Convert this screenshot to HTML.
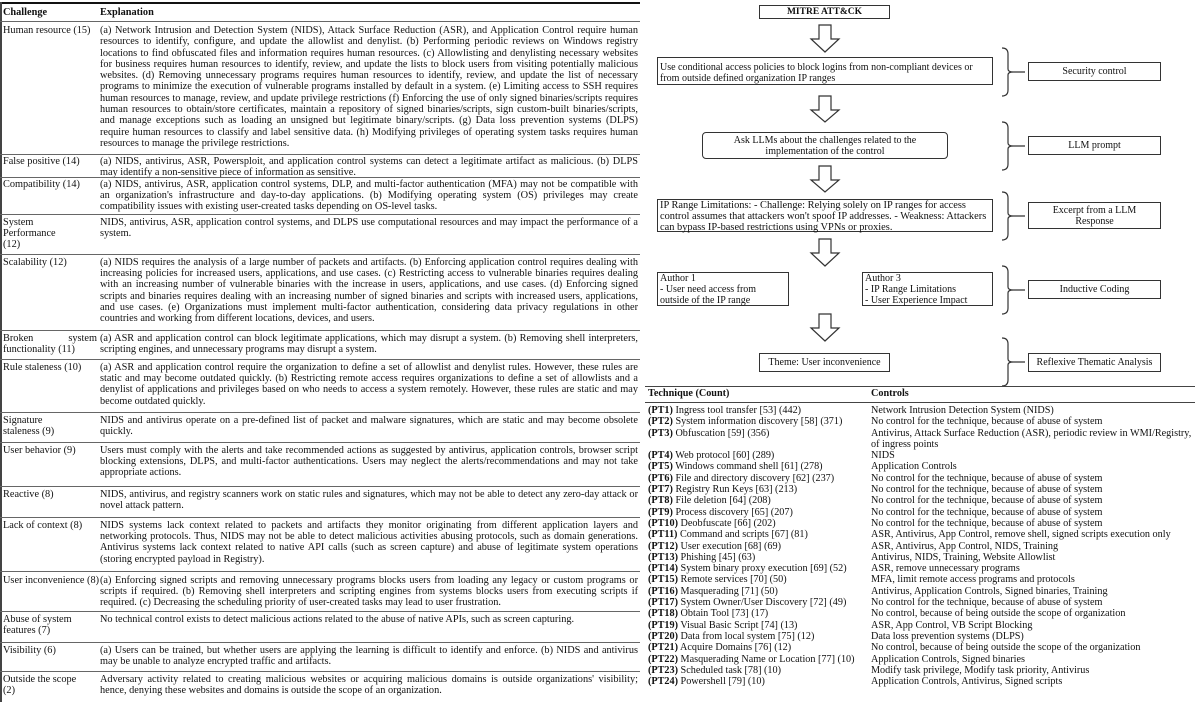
<!DOCTYPE html>
<html><head><meta charset="utf-8"><style>
*{margin:0;padding:0;box-sizing:border-box}
body{width:1195px;height:704px;background:#fff;position:relative;overflow:hidden;font-family:"Liberation Serif",serif;color:#111}
.a{position:absolute}
.c1{position:absolute;left:3px;width:94px;font-size:10.3px;line-height:11.2px}
.c2{position:absolute;left:100px;width:538px;font-size:10.3px;line-height:11.2px;text-align:justify}
.sep{position:absolute;left:0;width:640px;height:1px;background:#666}
.box{position:absolute;border:1.3px solid #333;font-size:10px;line-height:11px;background:#fff}
.ctr{display:flex;align-items:center;justify-content:center;text-align:center}
.tr{position:absolute;font-size:10.2px;line-height:11.3px;white-space:nowrap}
</style></head><body>
<!-- left table -->
<div class="a" style="left:0;top:2px;width:640px;height:2px;background:#111"></div>
<div class="a" style="left:0;top:2px;width:2px;height:700px;background:#444"></div>
<div class="c1" style="top:7px;font-weight:bold">Challenge</div>
<div class="c2" style="top:7px;font-weight:bold">Explanation</div>
<div class="sep" style="top:21px"></div>
<div class="c1" style="top:25px;width:120px;line-height:11.3px">Human resource (15)</div>
<div class="c2" style="top:25px;line-height:11.3px">(a) Network Intrusion and Detection System (NIDS), Attack Surface Reduction (ASR), and Application Control require human resources to identify, configure, and update the allowlist and denylist. (b) Performing periodic reviews on Windows registry locations to find obfuscated files and information requires human resources. (c) Allowlisting and denylisting necessary websites for business requires human resources to identify, review, and update the lists to block users from visiting potentially malicious websites. (d) Removing unnecessary programs requires human resources to identify, review, and update the list of necessary programs to minimize the execution of vulnerable programs installed by default in a system. (e) Limiting access to SSH requires human resources to manage, review, and update privilege restrictions (f) Enforcing the use of only signed binaries/scripts requires human resources to obtain/store certificates, maintain a repository of signed binaries/scripts, sign custom-built binaries/scripts, and manage exceptions such as loading an unsigned but legitimate binary/scripts. (g) Data loss prevention systems (DLPS) require human resources to classify and label sensitive data. (h) Modifying privileges of operating system tasks requires human resources to manage the privilege restrictions.</div>
<div class="sep" style="top:154px"></div>
<div class="c1" style="top:156px">False positive (14)</div>
<div class="c2" style="top:156px">(a) NIDS, antivirus, ASR, Powersploit, and application control systems can detect a legitimate artifact as malicious. (b) DLPS may identify a non-sensitive piece of information as sensitive.</div>
<div class="sep" style="top:177px"></div>
<div class="c1" style="top:179px">Compatibility (14)</div>
<div class="c2" style="top:179px">(a) NIDS, antivirus, ASR, application control systems, DLP, and multi-factor authentication (MFA) may not be compatible with an organization's infrastructure and day-to-day applications. (b) Modifying operating system (OS) privileges may create compatibility issues with existing user-created tasks depending on OS-level tasks.</div>
<div class="sep" style="top:214px"></div>
<div class="c1" style="top:217px">System<br>Performance<br>(12)</div>
<div class="c2" style="top:217px">NIDS, antivirus, ASR, application control systems, and DLPS use computational resources and may impact the performance of a system.</div>
<div class="sep" style="top:254px"></div>
<div class="c1" style="top:257px">Scalability (12)</div>
<div class="c2" style="top:257px">(a) NIDS requires the analysis of a large number of packets and artifacts. (b) Enforcing application control requires dealing with increasing policies for increased users, applications, and use cases. (c) Restricting access to vulnerable binaries requires dealing with an increasing number of vulnerable binaries with the increase in users, applications, and use cases. (d) Enforcing signed scripts and binaries requires dealing with an increasing number of signed binaries and scripts with increased users, applications, and use cases. (e) Organizations must implement multi-factor authentication, considering data privacy regulations in other countries and working from different locations, devices, and users.</div>
<div class="sep" style="top:330px"></div>
<div class="c1" style="top:333px"><div style="display:flex;justify-content:space-between"><span>Broken</span><span>system</span></div>functionality (11)</div>
<div class="c2" style="top:333px">(a) ASR and application control can block legitimate applications, which may disrupt a system. (b) Removing shell interpreters, scripting engines, and unnecessary programs may disrupt a system.</div>
<div class="sep" style="top:359px"></div>
<div class="c1" style="top:362px">Rule staleness (10)</div>
<div class="c2" style="top:362px">(a) ASR and application control require the organization to define a set of allowlist and denylist rules. However, these rules are static and may become outdated quickly. (b) Restricting remote access requires organizations to define a set of allowlists and a denylist of applications and privileges based on who needs to access a system remotely. However, these rules are static and may become outdated quickly.</div>
<div class="sep" style="top:412px"></div>
<div class="c1" style="top:415px">Signature<br>staleness (9)</div>
<div class="c2" style="top:415px">NIDS and antivirus operate on a pre-defined list of packet and malware signatures, which are static and may become obsolete quickly.</div>
<div class="sep" style="top:442px"></div>
<div class="c1" style="top:445px">User behavior (9)</div>
<div class="c2" style="top:445px">Users must comply with the alerts and take recommended actions as suggested by antivirus, application controls, browser script blocking extensions, DLPS, and multi-factor authentications. Users may neglect the alerts/recommendations and may not take appropriate actions.</div>
<div class="sep" style="top:486px"></div>
<div class="c1" style="top:489px">Reactive (8)</div>
<div class="c2" style="top:489px">NIDS, antivirus, and registry scanners work on static rules and signatures, which may not be able to detect any zero-day attack or novel attack pattern.</div>
<div class="sep" style="top:517px"></div>
<div class="c1" style="top:520px">Lack of context (8)</div>
<div class="c2" style="top:520px">NIDS systems lack context related to packets and artifacts they monitor originating from different application layers and networking protocols. Thus, NIDS may not be able to detect malicious activities abusing protocols, such as domain generations. Antivirus systems lack context related to native API calls (such as screen capture) and abuse of legitimate system operations (storing encrypted payload in Registry).</div>
<div class="sep" style="top:571px"></div>
<div class="c1" style="top:575px;width:120px">User inconvenience (8)</div>
<div class="c2" style="top:575px">(a) Enforcing signed scripts and removing unnecessary programs blocks users from loading any legacy or custom programs or scripts if required. (b) Removing shell interpreters and scripting engines from systems blocks users from executing scripts if required. (c) Decreasing the scheduling priority of user-created tasks may lead to user frustration.</div>
<div class="sep" style="top:611px"></div>
<div class="c1" style="top:614px">Abuse of system<br>features (7)</div>
<div class="c2" style="top:614px">No technical control exists to detect malicious actions related to the abuse of native APIs, such as screen capturing.</div>
<div class="sep" style="top:642px"></div>
<div class="c1" style="top:645px">Visibility (6)</div>
<div class="c2" style="top:645px">(a) Users can be trained, but whether users are applying the learning is difficult to identify and enforce. (b) NIDS and antivirus may be unable to analyze encrypted traffic and artifacts.</div>
<div class="sep" style="top:671px"></div>
<div class="c1" style="top:674px">Outside the scope<br>(2)</div>
<div class="c2" style="top:674px">Adversary activity related to creating malicious websites or acquiring malicious domains is outside organizations' visibility; hence, denying these websites and domains is outside the scope of an organization.</div>

<!-- diagram -->
<svg class="a" style="left:645px;top:0" width="550" height="390" viewBox="645 0 550 390">
<g fill="#fff" stroke="#333" stroke-width="1.2">
<path d="M819,25 h12 v14 h8 l-14,13 l-14,-13 h8 z"/>
<path d="M819,96 h12 v14 h8 l-14,12 l-14,-12 h8 z"/>
<path d="M819,166 h12 v14 h8 l-14,12 l-14,-12 h8 z"/>
<path d="M819,239 h12 v14 h8 l-14,13 l-14,-13 h8 z"/>
<path d="M819,314 h12 v14 h8 l-14,13 l-14,-13 h8 z"/>
</g>
<g fill="none" stroke="#333" stroke-width="1.2">
<path d="M1002,48 q6,0 6,6 v15 q0,3 5,3 q-5,0 -5,3 v15 q0,6 -6,6"/>
<path d="M1002,122 q6,0 6,6 v15 q0,3 5,3 q-5,0 -5,3 v15 q0,6 -6,6"/>
<path d="M1002,192 q6,0 6,6 v15 q0,3 5,3 q-5,0 -5,3 v15 q0,6 -6,6"/>
<path d="M1002,266 q6,0 6,6 v15 q0,3 5,3 q-5,0 -5,3 v15 q0,6 -6,6"/>
<path d="M1002,338 q6,0 6,6 v15 q0,3 5,3 q-5,0 -5,3 v15 q0,6 -6,6"/>
<path d="M1013,72 h12 M1013,146 h12 M1013,216 h12 M1013,290 h12 M1013,362 h12"/>
</g>
</svg>
<div class="box ctr" style="left:759px;top:5px;width:131px;height:14px;font-weight:bold;font-size:9.5px">MITRE ATT&amp;CK</div>
<div class="box" style="left:657px;top:57px;width:336px;height:28px;padding:4px 2px">Use conditional access policies to block logins from non-compliant devices or from outside defined organization IP ranges</div>
<div class="box ctr" style="left:1028px;top:62px;width:133px;height:19px">Security control</div>
<div class="box ctr" style="left:702px;top:132px;width:246px;height:27px;border-radius:4px">Ask LLMs about the challenges related to the<br>implementation of the control</div>
<div class="box ctr" style="left:1028px;top:136px;width:133px;height:19px">LLM prompt</div>
<div class="box" style="left:657px;top:199px;width:336px;height:33px;padding:0 2px;font-size:10.4px">IP Range Limitations: - Challenge: Relying solely on IP ranges for access control assumes that attackers won't spoof IP addresses. - Weakness: Attackers can bypass IP-based restrictions using VPNs or proxies.</div>
<div class="box ctr" style="left:1028px;top:202px;width:133px;height:27px">Excerpt from a LLM<br>Response</div>
<div class="box" style="left:657px;top:272px;width:132px;height:34px;padding:0 2px">Author 1<br>- User need access from<br>outside of the IP range</div>
<div class="box" style="left:862px;top:272px;width:131px;height:34px;padding:0 2px">Author 3<br>- IP Range Limitations<br>- User Experience Impact</div>
<div class="box ctr" style="left:1028px;top:280px;width:133px;height:19px">Inductive Coding</div>
<div class="box ctr" style="left:759px;top:353px;width:131px;height:19px">Theme: User inconvenience</div>
<div class="box ctr" style="left:1028px;top:353px;width:133px;height:19px">Reflexive Thematic Analysis</div>

<!-- right table -->
<div class="a" style="left:645px;top:386px;width:550px;height:1px;background:#444"></div>
<div class="a" style="left:645px;top:402px;width:550px;height:1px;background:#444"></div>
<div class="tr" style="left:648px;top:388px;font-weight:bold">Technique (Count)</div>
<div class="tr" style="left:871px;top:388px;font-weight:bold">Controls</div>
<div class="tr" style="left:648px;top:405px"><b>(PT1)</b> Ingress tool transfer [53] (442)<br><b>(PT2)</b> System information discovery [58] (371)<br><b>(PT3)</b> Obfuscation [59] (356)<br><br><b>(PT4)</b> Web protocol [60] (289)<br><b>(PT5)</b> Windows command shell [61] (278)<br><b>(PT6)</b> File and directory discovery [62] (237)<br><b>(PT7)</b> Registry Run Keys [63] (213)<br><b>(PT8)</b> File deletion [64] (208)<br><b>(PT9)</b> Process discovery [65] (207)<br><b>(PT10)</b> Deobfuscate [66] (202)<br><b>(PT11)</b> Command and scripts [67] (81)<br><b>(PT12)</b> User execution [68] (69)<br><b>(PT13)</b> Phishing [45] (63)<br><b>(PT14)</b> System binary proxy execution [69] (52)<br><b>(PT15)</b> Remote services [70] (50)<br><b>(PT16)</b> Masquerading [71] (50)<br><b>(PT17)</b> System Owner/User Discovery [72] (49)<br><b>(PT18)</b> Obtain Tool [73] (17)<br><b>(PT19)</b> Visual Basic Script [74] (13)<br><b>(PT20)</b> Data from local system [75] (12)<br><b>(PT21)</b> Acquire Domains [76] (12)<br><b>(PT22)</b> Masquerading Name or Location [77] (10)<br><b>(PT23)</b> Scheduled task [78] (10)<br><b>(PT24)</b> Powershell [79] (10)</div>
<div class="tr" style="left:871px;top:405px">Network Intrusion Detection System (NIDS)<br>No control for the technique, because of abuse of system<br>Antivirus, Attack Surface Reduction (ASR), periodic review in WMI/Registry,<br>of ingress points<br>NIDS<br>Application Controls<br>No control for the technique, because of abuse of system<br>No control for the technique, because of abuse of system<br>No control for the technique, because of abuse of system<br>No control for the technique, because of abuse of system<br>No control for the technique, because of abuse of system<br>ASR, Antivirus, App Control, remove shell, signed scripts execution only<br>ASR, Antivirus, App Control, NIDS, Training<br>Antivirus, NIDS, Training, Website Allowlist<br>ASR, remove unnecessary programs<br>MFA, limit remote access programs and protocols<br>Antivirus, Application Controls, Signed binaries, Training<br>No control for the technique, because of abuse of system<br>No control, because of being outside the scope of organization<br>ASR, App Control, VB Script Blocking<br>Data loss prevention systems (DLPS)<br>No control, because of being outside the scope of the organization<br>Application Controls, Signed binaries<br>Modify task privilege, Modify task priority, Antivirus<br>Application Controls, Antivirus, Signed scripts</div>
</body></html>
